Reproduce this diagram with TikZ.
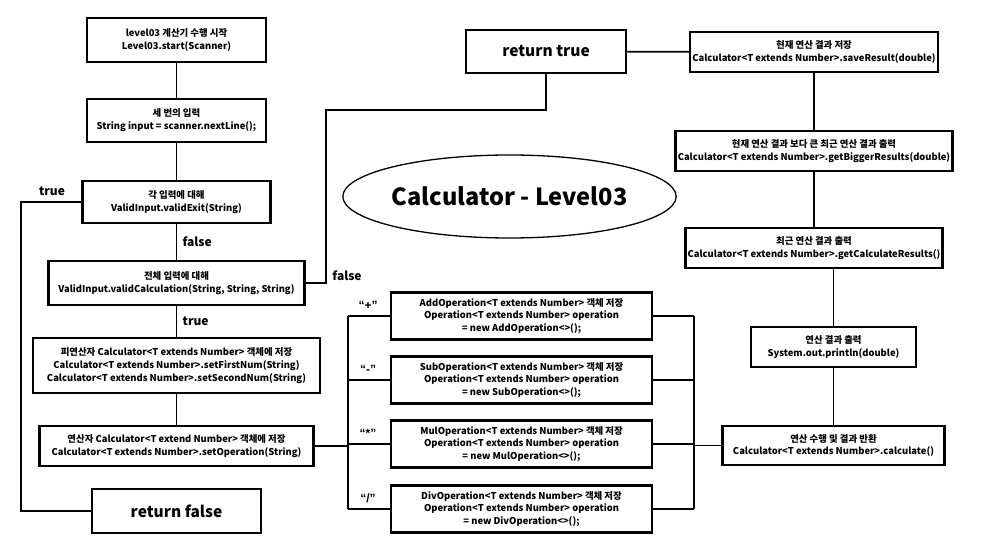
\documentclass[tikz,border=0pt]{standalone}
\usepackage{fontspec}
\setmainfont{Noto Sans CJK KR}
\newfontfamily\quotefont{Liberation Sans}
\usetikzlibrary{calc,shapes.geometric}

\tikzset{
	box/.style={draw, line width=2.1pt, align=center, inner sep=0pt, font=\bfseries\fontsize{9.4}{12.8}\selectfont},
	bigbox/.style={draw, line width=2.1pt, inner sep=0pt, font=\bfseries\fontsize{15.5}{18}\selectfont},
	lbl/.style={font=\bfseries\fontsize{12}{14}\selectfont},
	qlbl/.style={font=\quotefont\bfseries\fontsize{12}{14}\selectfont},
	conn/.style={line width=1.7pt}
}

\begin{document}
\begin{tikzpicture}[x=1pt,y=-1pt]
				\useasboundingbox (0,0) rectangle (1000,553);
				\coordinate (tl) at (21,202);
				\coordinate (fr) at (326,110);
				\coordinate (lbus) at (348,315);
				\coordinate (rbus) at (694,315);
				
				\node[box, minimum width=179pt, minimum height=44pt] (start) at (176.5,40) {level03 계산기 수행 시작\\Level03.start(Scanner)};
				\node[box, minimum width=179pt, minimum height=43pt] (input) at (176.5,120.5) {세 번의 입력\\String input = scanner.nextLine();};
				\node[box, minimum width=188pt, minimum height=42pt] (exit) at (176.5,202) {각 입력에 대해\\ValidInput.validExit(String)};
				\node[box, minimum width=256pt, minimum height=44pt] (valcalc) at (176.5,283) {전체 입력에 대해\\ValidInput.validCalculation(String, String, String)};
				\node[box, minimum width=287pt, minimum height=55pt] (operand) at (176.5,365.5) {피연산자 Calculator<T extends Number> 객체에 저장\\Calculator<T extends Number>.setFirstNum(String)\\Calculator<T extends Number>.setSecondNum(String)};
				\node[box, minimum width=274pt, minimum height=40pt] (operator) at (176.5,446) {연산자 Calculator<T extend Number> 객체에 저장\\Calculator<T extends Number>.setOperation(String)};
				\node[bigbox, minimum width=169pt, minimum height=44pt] (retfalse) at (176.5,511) {return false};
				\node[bigbox, minimum width=160pt, minimum height=43pt] (rettrue) at (546,51.5) {return true};
				
				\node[box, minimum width=248pt, minimum height=40pt] (save) at (814,52) {현재 연산 결과 저장\\Calculator<T extends Number>.saveResult(double)};
				\node[box, minimum width=277pt, minimum height=40pt] (bigger) at (814,151) {현재 연산 결과 보다 큰 최근 연산 결과 출력\\Calculator<T extends Number>.getBiggerResults(double)};
				\node[box, minimum width=257pt, minimum height=40pt] (recent) at (814,248) {최근 연산 결과 출력\\Calculator<T extends Number>.getCalculateResults()};
				\node[box, minimum width=165pt, minimum height=40pt] (println) at (833.5,347) {연산 결과 출력\\System.out.println(double)};
				\node[box, minimum width=222pt, minimum height=39pt] (calc) at (833.5,445.5) {연산 수행 및 결과 반환\\Calculator<T extends Number>.calculate()};
				
				\node[draw, ellipse, line width=1.3pt, minimum width=257pt, minimum height=83pt, inner sep=0pt, font=\bfseries\fontsize{23.6}{26}\selectfont] (title) at (509.5,196.5) {Calculator - Level03};
				
				\draw[conn] (start) -- (input);
				\draw[conn] (input) -- (exit);
				\draw[conn] (exit) -- (valcalc) node[lbl, midway, right=2pt] (f1) {false};
				\draw[conn] (valcalc) -- (operand) node[lbl, midway, right=2pt] (t1) {true};
				\draw[conn] (operand) -- (operator);
				\draw[conn] (exit.west) -- (tl) |- (retfalse.west);
				\node[lbl] (t2) at (52,191) {true};
				\draw[conn] (valcalc.east) -| (fr) -| (rettrue.south);
				\node[lbl] (f2) at (347,276) {false};
				\draw[conn] (rettrue) -- (save);
				\draw[conn] (save) -- (bigger);
				\draw[conn] (bigger) -- (recent);
				\draw[conn] (println.north) -- (println.north |- recent.south);
				\draw[conn] (println) -- (calc);
				
				\foreach \nm/\yy/\op/\sym in {add/316/Add/{“+”}, sub/380/Sub/{“-”}, mul/444/Mul/{“*”}, div/509/Div/{“/”}}{
					\node[box, minimum width=261pt, minimum height=47pt] (\nm) at (521.5,\yy) {\op Operation<T extends Number> 객체 저장\\Operation<T extends Number> operation\\= new \op Operation<>();};
					\node[qlbl] (\nm lbl) at (368,\yy-11) {\sym};
					\draw[conn] (lbus |- \nm.west) -- (\nm.west);
					\draw[conn] (\nm.east) -- (rbus |- \nm.east);}
				
				\draw[conn] (lbus |- add.west) -- (lbus |- div.west);
				\draw[conn] (rbus |- add.east) -- (rbus |- div.east);
				\draw[conn] (operator.east) -- (lbus |- operator.east);
				\draw[conn] (rbus |- calc.west) -- (calc.west);
			\end{tikzpicture}
\end{document}
